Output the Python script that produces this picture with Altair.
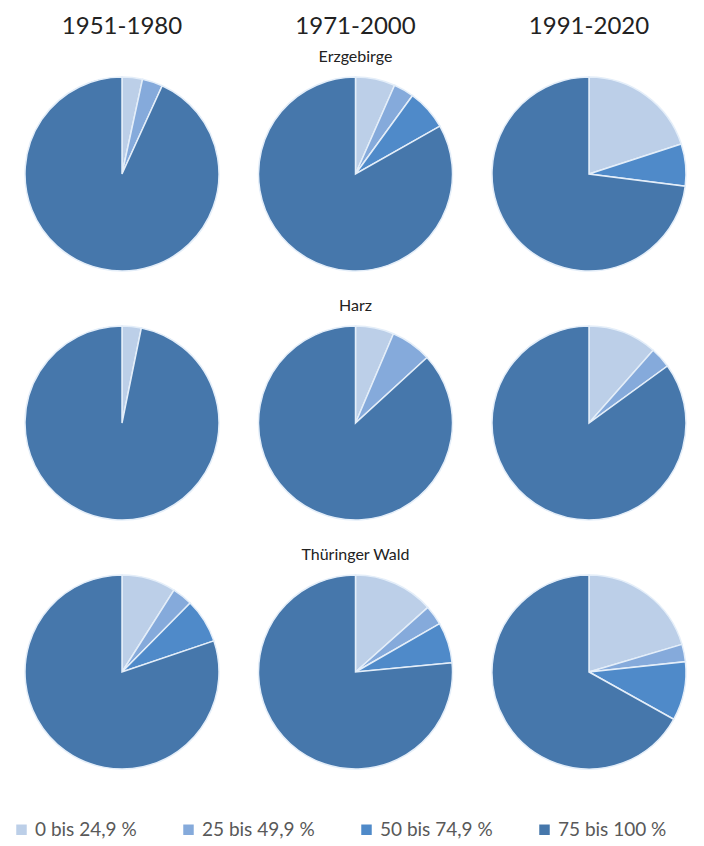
import math
import altair as alt
import pandas as pd

periods = ["1951-1980", "1971-2000", "1991-2020"]
regions = ["Erzgebirge", "Harz", "Thüringer Wald"]
classes = ["0 bis 24,9 %", "25 bis 49,9 %", "50 bis 74,9 %", "75 bis 100 %"]
colors = ["#bccfe8", "#85aadb", "#4f8ac9", "#4677ab"]

# shares (%) per region, per period, in class order
erzgebirge = [[3.4, 3.4, 0, 93.2], [6.6, 3.4, 6.8, 83.2], [20.0, 0, 7.0, 73.0]]
harz = [[3.2, 0, 0, 96.8], [6.4, 6.8, 0, 86.8], [11.5, 3.5, 0, 85.0]]
thueringer_wald = [[9.0, 3.4, 7.4, 80.2], [13.4, 3.3, 6.8, 76.5], [20.4, 2.9, 9.8, 66.9]]

rows = []
for ri, (reg, vals) in enumerate(zip(regions, [erzgebirge, harz, thueringer_wald])):
    for pi, (per, shares) in enumerate(zip(periods, vals)):
        cum = 0.0
        for ci, (cls, v) in enumerate(zip(classes, shares)):
            rows.append({"region": reg, "row": ri, "period": per, "col": pi,
                         "klasse": cls, "order": ci, "value": v,
                         "start": cum, "end": cum + v})
            cum += v
df = pd.DataFrame(rows)

per_df = pd.DataFrame({"period": periods, "col": [0, 1, 2]})
reg_df = pd.DataFrame({"region": regions, "row": [0, 1, 2], "col": [1, 1, 1]})

xscale = alt.Scale(domain=[0, 2], range=[114, 581])
yscale = alt.Scale(domain=[0, 2], range=[166, 664])

pies = alt.Chart(df).transform_filter("datum.value > 0").mark_arc(
    radius=97, stroke="#e4eef9", strokeWidth=1.5
).encode(
    x=alt.X("col:Q", scale=xscale, axis=None),
    y=alt.Y("row:Q", scale=yscale, axis=None),
    theta=alt.Theta("start:Q", scale=alt.Scale(domain=[0, 100], range=[0, 2 * math.pi])),
    theta2="end:Q",
    color=alt.Color(
        "klasse:N",
        scale=alt.Scale(domain=classes, range=colors),
        legend=alt.Legend(
            title=None, orient="none", legendX=4, legendY=812,
            direction="horizontal", symbolType="square", symbolSize=110,
            symbolStrokeWidth=0, labelFontSize=19, labelColor="#595959",
            labelFont="Lato", columnPadding=42, labelOffset=4,
        ),
    ),
    order=alt.Order("order:Q"),
)

period_text = alt.Chart(per_df).mark_text(
    font="Lato", fontSize=24, color="#222222", baseline="middle"
).encode(
    x=alt.X("col:Q", scale=xscale, axis=None),
    y=alt.value(19),
    text="period:N",
)

region_text = alt.Chart(reg_df).mark_text(
    font="Lato", fontSize=16, color="#222222", baseline="middle", dy=-117
).encode(
    x=alt.X("col:Q", scale=xscale, axis=None),
    y=alt.Y("row:Q", scale=yscale, axis=None),
    text="region:N",
)

chart = alt.layer(pies, period_text, region_text).properties(
    width=686, height=834, padding=0, autosize="none"
).configure_view(strokeWidth=0, stroke="transparent")

chart.save("out.html", embed_options={"renderer": "svg", "actions": False})
